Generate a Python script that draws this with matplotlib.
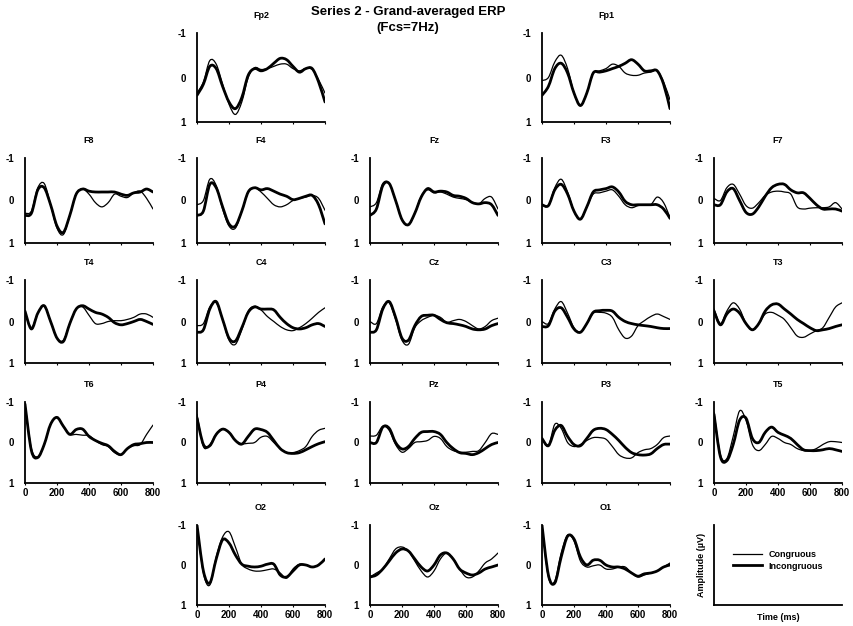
import numpy as np
import matplotlib
matplotlib.use("Agg")
import matplotlib.pyplot as plt
from matplotlib.path import Path
from matplotlib.patches import PathPatch

plt.rcParams['font.family'] = ['Liberation Sans', 'DejaVu Sans']
plt.rcParams['font.weight'] = 'bold'

# time axis (ms), samples every 40 ms
times = np.arange(0, 801, 40)

# amplitude values (uV), congruous (thin) / incongruous (thick)
fp2_con = [0.35, 0.1, -0.38, -0.3, 0.15, 0.6, 0.83, 0.55, 0.0, -0.22, -0.18, -0.2, -0.25, -0.3, -0.3, -0.2, -0.15, -0.2, -0.18, 0.05, 0.35]
fp2_inc = [0.4, 0.15, -0.25, -0.2, 0.2, 0.55, 0.7, 0.45, -0.05, -0.2, -0.15, -0.2, -0.32, -0.43, -0.4, -0.25, -0.12, -0.2, -0.2, 0.1, 0.55]
fp1_con = [0.07, 0.0, -0.35, -0.5, -0.2, 0.35, 0.63, 0.35, -0.1, -0.15, -0.2, -0.3, -0.25, -0.1, -0.05, -0.05, -0.1, -0.12, -0.15, 0.1, 0.5]
fp1_inc = [0.4, 0.2, -0.2, -0.32, -0.1, 0.35, 0.63, 0.35, -0.1, -0.12, -0.15, -0.2, -0.25, -0.32, -0.4, -0.3, -0.15, -0.15, -0.15, 0.15, 0.7]
f8_con = [0.3, 0.25, -0.3, -0.4, 0.1, 0.65, 0.8, 0.35, -0.15, -0.27, -0.15, 0.05, 0.15, 0.05, -0.15, -0.1, -0.07, -0.18, -0.22, -0.05, 0.2]
f8_inc = [0.35, 0.3, -0.25, -0.3, 0.1, 0.6, 0.75, 0.35, -0.15, -0.27, -0.22, -0.2, -0.2, -0.2, -0.2, -0.15, -0.12, -0.18, -0.2, -0.27, -0.2]
f4_con = [0.1, 0.0, -0.5, -0.35, 0.2, 0.6, 0.65, 0.25, -0.2, -0.3, -0.2, -0.05, 0.1, 0.15, 0.1, 0.0, -0.05, -0.08, -0.12, -0.05, 0.23]
f4_inc = [0.35, 0.25, -0.38, -0.3, 0.15, 0.55, 0.6, 0.25, -0.2, -0.3, -0.25, -0.28, -0.22, -0.15, -0.1, -0.02, -0.05, -0.1, -0.12, 0.1, 0.55]
fz_con = [0.15, 0.05, -0.4, -0.4, 0.0, 0.45, 0.57, 0.3, -0.1, -0.25, -0.18, -0.2, -0.15, -0.08, -0.05, -0.02, 0.05, 0.08, -0.05, -0.08, 0.2]
fz_inc = [0.35, 0.2, -0.35, -0.4, 0.0, 0.45, 0.57, 0.3, -0.08, -0.28, -0.2, -0.22, -0.2, -0.12, -0.1, -0.05, 0.05, 0.08, 0.05, 0.1, 0.35]
f3_con = [0.1, 0.12, -0.3, -0.5, -0.2, 0.25, 0.44, 0.15, -0.15, -0.18, -0.22, -0.25, -0.1, 0.1, 0.17, 0.12, 0.1, 0.1, -0.08, 0.05, 0.4]
f3_inc = [0.1, 0.12, -0.25, -0.38, -0.15, 0.25, 0.44, 0.15, -0.2, -0.25, -0.28, -0.32, -0.2, 0.02, 0.1, 0.1, 0.1, 0.1, 0.1, 0.2, 0.42]
f7_con = [-0.05, 0.0, -0.3, -0.38, -0.15, 0.12, 0.18, 0.05, -0.12, -0.2, -0.22, -0.2, -0.15, 0.15, 0.2, 0.18, 0.17, 0.17, 0.15, 0.05, 0.2]
f7_inc = [0.1, 0.1, -0.2, -0.28, 0.0, 0.28, 0.32, 0.15, -0.1, -0.3, -0.38, -0.38, -0.25, -0.18, -0.18, -0.05, 0.1, 0.2, 0.2, 0.2, 0.25]
t4_con = [-0.2, 0.15, -0.2, -0.38, 0.0, 0.4, 0.45, 0.05, -0.3, -0.35, -0.15, 0.05, 0.05, 0.0, -0.02, -0.02, -0.05, -0.1, -0.18, -0.18, -0.1]
t4_inc = [-0.25, 0.18, -0.2, -0.38, 0.0, 0.4, 0.48, 0.05, -0.3, -0.38, -0.3, -0.22, -0.18, -0.1, 0.03, 0.08, 0.05, 0.0, -0.05, 0.0, 0.07]
c4_con = [0.1, 0.05, -0.35, -0.45, -0.05, 0.45, 0.55, 0.2, -0.25, -0.37, -0.28, -0.12, 0.0, 0.12, 0.2, 0.22, 0.15, 0.05, -0.08, -0.22, -0.33]
c4_inc = [0.26, 0.2, -0.3, -0.48, -0.05, 0.4, 0.47, 0.15, -0.22, -0.35, -0.3, -0.3, -0.28, -0.1, 0.05, 0.15, 0.18, 0.15, 0.08, 0.05, 0.12]
cz_con = [0.0, 0.05, -0.35, -0.45, -0.05, 0.45, 0.55, 0.15, -0.02, -0.1, -0.15, -0.1, 0.02, -0.02, -0.05, 0.0, 0.1, 0.18, 0.12, -0.02, -0.08]
cz_inc = [0.26, 0.2, -0.3, -0.48, -0.1, 0.4, 0.45, 0.1, -0.12, -0.15, -0.15, -0.05, 0.03, 0.05, 0.08, 0.12, 0.18, 0.2, 0.18, 0.1, 0.05]
c3_con = [0.0, 0.05, -0.3, -0.48, -0.2, 0.15, 0.26, 0.05, -0.2, -0.22, -0.2, -0.1, 0.2, 0.4, 0.35, 0.1, -0.02, -0.12, -0.18, -0.12, -0.05]
c3_inc = [0.12, 0.1, -0.25, -0.33, -0.1, 0.18, 0.26, 0.05, -0.22, -0.26, -0.27, -0.25, -0.1, 0.0, 0.05, 0.08, 0.1, 0.12, 0.15, 0.17, 0.17]
t3_con = [-0.3, 0.05, -0.25, -0.45, -0.3, 0.05, 0.2, 0.05, -0.18, -0.22, -0.15, -0.05, 0.15, 0.35, 0.38, 0.3, 0.22, 0.15, -0.1, -0.35, -0.45]
t3_inc = [-0.25, 0.08, -0.18, -0.3, -0.2, 0.05, 0.2, 0.05, -0.25, -0.4, -0.42, -0.3, -0.18, -0.05, 0.05, 0.15, 0.22, 0.2, 0.17, 0.12, 0.08]
t6_con = [-0.95, 0.15, 0.35, 0.05, -0.45, -0.62, -0.4, -0.2, -0.2, -0.18, -0.17, -0.05, 0.05, 0.1, 0.25, 0.3, 0.15, 0.08, 0.05, -0.2, -0.43]
t6_inc = [-0.95, 0.2, 0.37, 0.05, -0.45, -0.62, -0.4, -0.2, -0.32, -0.33, -0.15, -0.05, 0.02, 0.08, 0.22, 0.3, 0.15, 0.05, 0.03, 0.0, 0.0]
p4_con = [-0.7, 0.1, 0.05, -0.2, -0.33, -0.25, -0.05, 0.03, 0.02, 0.0, -0.13, -0.15, 0.0, 0.15, 0.25, 0.25, 0.2, 0.1, -0.15, -0.3, -0.35]
p4_inc = [-0.6, 0.05, 0.08, -0.2, -0.33, -0.25, -0.05, 0.04, -0.15, -0.33, -0.32, -0.25, -0.05, 0.15, 0.25, 0.27, 0.25, 0.18, 0.1, 0.03, -0.02]
pz_con = [-0.16, -0.18, -0.4, -0.3, 0.05, 0.24, 0.15, 0.0, -0.02, -0.05, -0.15, -0.1, 0.1, 0.2, 0.24, 0.24, 0.22, 0.2, 0.0, -0.22, -0.2]
pz_inc = [0.0, 0.0, -0.38, -0.35, 0.0, 0.16, 0.1, -0.1, -0.25, -0.27, -0.27, -0.2, 0.0, 0.15, 0.25, 0.27, 0.3, 0.25, 0.15, 0.05, 0.0]
p3_con = [-0.1, 0.08, -0.45, -0.35, 0.0, 0.1, 0.05, -0.05, -0.12, -0.12, -0.08, 0.1, 0.3, 0.38, 0.38, 0.25, 0.18, 0.15, 0.05, -0.12, -0.16]
p3_inc = [-0.1, 0.08, -0.3, -0.42, -0.15, 0.05, 0.08, -0.1, -0.3, -0.35, -0.32, -0.2, -0.05, 0.12, 0.25, 0.3, 0.31, 0.28, 0.15, 0.05, 0.04]
t5_con = [-0.75, 0.3, 0.4, -0.15, -0.78, -0.55, 0.05, 0.2, 0.05, -0.15, -0.1, 0.0, 0.05, 0.15, 0.2, 0.2, 0.15, 0.05, -0.02, -0.02, 0.0]
t5_inc = [-0.7, 0.35, 0.45, 0.05, -0.55, -0.6, -0.1, 0.0, -0.25, -0.38, -0.25, -0.18, -0.1, 0.05, 0.18, 0.2, 0.2, 0.18, 0.15, 0.18, 0.22]
o2_con = [-1.0, 0.2, 0.5, -0.2, -0.7, -0.83, -0.45, -0.02, 0.1, 0.15, 0.15, 0.12, 0.1, 0.2, 0.33, 0.1, -0.02, 0.0, 0.05, 0.0, -0.15]
o2_inc = [-1.0, 0.15, 0.45, -0.15, -0.63, -0.55, -0.25, -0.02, 0.03, 0.05, 0.03, -0.02, -0.02, 0.25, 0.3, 0.15, 0.0, 0.0, 0.05, 0.0, -0.15]
oz_con = [0.3, 0.2, 0.1, -0.15, -0.4, -0.45, -0.35, -0.1, 0.15, 0.3, 0.15, -0.15, -0.3, -0.15, 0.1, 0.3, 0.3, 0.15, -0.05, -0.15, -0.3]
oz_inc = [0.3, 0.25, 0.1, -0.1, -0.3, -0.4, -0.35, -0.15, 0.05, 0.15, 0.0, -0.25, -0.3, -0.15, 0.1, 0.2, 0.25, 0.2, 0.1, 0.05, 0.0]
o1_con = [-1.0, 0.3, 0.4, -0.3, -0.75, -0.6, -0.1, 0.05, 0.02, 0.0, 0.1, 0.1, 0.05, 0.05, 0.2, 0.3, 0.25, 0.2, 0.15, 0.05, -0.05]
o1_inc = [-1.0, 0.25, 0.45, -0.2, -0.72, -0.65, -0.2, 0.0, -0.12, -0.12, 0.0, 0.05, 0.05, 0.1, 0.2, 0.28, 0.22, 0.2, 0.15, 0.05, 0.0]

# channel name, grid row, grid col, congruous, incongruous
channels = [
    ("Fp2", 0, 1, fp2_con, fp2_inc), ("Fp1", 0, 3, fp1_con, fp1_inc),
    ("F8", 1, 0, f8_con, f8_inc), ("F4", 1, 1, f4_con, f4_inc), ("Fz", 1, 2, fz_con, fz_inc),
    ("F3", 1, 3, f3_con, f3_inc), ("F7", 1, 4, f7_con, f7_inc),
    ("T4", 2, 0, t4_con, t4_inc), ("C4", 2, 1, c4_con, c4_inc), ("Cz", 2, 2, cz_con, cz_inc),
    ("C3", 2, 3, c3_con, c3_inc), ("T3", 2, 4, t3_con, t3_inc),
    ("T6", 3, 0, t6_con, t6_inc), ("P4", 3, 1, p4_con, p4_inc), ("Pz", 3, 2, pz_con, pz_inc),
    ("P3", 3, 3, p3_con, p3_inc), ("T5", 3, 4, t5_con, t5_inc),
    ("O2", 4, 1, o2_con, o2_inc), ("Oz", 4, 2, oz_con, oz_inc), ("O1", 4, 3, o1_con, o1_inc),
]
# panels that carry time tick labels
labelled = {"T6", "T5", "O2", "Oz", "O1"}

W, H = 854, 626
col_left = [25, 197, 370, 542, 714]
row_top = [33, 158, 280, 402, 525]
row_bot = [122, 243, 363, 483, 605]
ax_w = 128

fig = plt.figure(figsize=(W / 100, H / 100), dpi=100)


def make_axes(r, c):
    top, bot = row_top[r], row_bot[r]
    ax = fig.add_axes([col_left[c] / W, 1 - bot / H, ax_w / W, (bot - top) / H])
    for s in ("top", "right"):
        ax.spines[s].set_visible(False)
    for s in ("left", "bottom"):
        ax.spines[s].set_linewidth(1.3)
    return ax


def smooth_line(ax, x, y, lw):
    # draw a smooth curve through the samples (Catmull-Rom as cubic Bezier)
    x = np.asarray(x, float)
    y = np.asarray(y, float)
    n = len(x)
    verts = [(x[0], y[0])]
    codes = [Path.MOVETO]
    for i in range(n - 1):
        x0, y0 = (x[i - 1], y[i - 1]) if i > 0 else (x[i], y[i])
        x3, y3 = (x[i + 2], y[i + 2]) if i + 2 < n else (x[i + 1], y[i + 1])
        c1 = (x[i] + (x[i + 1] - x0) / 6, y[i] + (y[i + 1] - y0) / 6)
        c2 = (x[i + 1] - (x3 - x[i]) / 6, y[i + 1] - (y3 - y[i]) / 6)
        verts += [c1, c2, (x[i + 1], y[i + 1])]
        codes += [Path.CURVE4] * 3
    ax.add_patch(PathPatch(Path(verts, codes), fill=False, edgecolor="black",
                           lw=lw, capstyle="round", joinstyle="round"))


for name, r, c, con, inc in channels:
    ax = make_axes(r, c)
    smooth_line(ax, times, con, 0.9)
    smooth_line(ax, times, inc, 2.0)
    ax.set_xlim(0, 800)
    ax.set_ylim(1, -1)
    ax.set_yticks([-1, 0, 1])
    ax.set_yticklabels(["-1", "0", "1"])
    ax.set_xticks([0, 200, 400, 600, 800])
    if name not in labelled:
        ax.set_xticklabels([])
    ax.tick_params(axis="both", length=1.5, width=0.8, labelsize=7, pad=2)
    ax.tick_params(axis="y", length=0, pad=8)
    ax.set_title(name, fontsize=6.5, fontweight="bold", pad=11)

# legend panel
ax = make_axes(4, 4)
ax.set_xlim(0, 1)
ax.set_ylim(0, 1)
ax.set_xticks([])
ax.set_yticks([])
ax.plot([], [], color="black", lw=0.9, label="Congruous")
ax.plot([], [], color="black", lw=2.0, label="Incongruous")
ax.legend(loc="center", frameon=False, fontsize=6.5, handlelength=3.2,
          labelspacing=0.3, bbox_to_anchor=(0.5, 0.56))
ax.set_xlabel("Time (ms)", fontsize=6.5, fontweight="bold", labelpad=6)
ax.set_ylabel("Amplitude (\u00b5V)", fontsize=6.5, fontweight="bold", labelpad=6)

fig.text(408 / W, 1 - 12 / H, "Series 2 - Grand-averaged ERP", ha="center", va="center",
         fontsize=9.5, fontweight="bold")
fig.text(408 / W, 1 - 28 / H, "(Fcs=7Hz)", ha="center", va="center",
         fontsize=9.5, fontweight="bold")

fig.savefig("out.png", dpi=100)
